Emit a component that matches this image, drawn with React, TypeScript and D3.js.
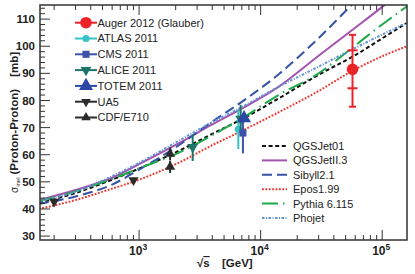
import React, { useEffect, useRef } from "react";
import * as d3 from "d3";

// sqrt(s) grid [GeV] for the model curves
const energies = [150, 300, 600, 1000, 2000, 4000, 7000, 14000, 30000, 60000, 100000, 160000]
const qgsjet01 = [42.2, 45.9, 50.8, 54.9, 60.9, 67.7, 73.1, 80.7, 89.5, 96.7, 102.9, 108.6]
const qgsjet2 = [43.3, 47.0, 51.5, 56.5, 63.6, 71.2, 77.0, 85.0, 96.5, 106.8, 114.5, 122.0]
const sibyll = [41.9, 44.6, 49.0, 54.5, 62.7, 72.2, 79.5, 89.6, 103.0, 116.5, 126.0, 135.0]
const epos = [40.0, 43.3, 47.5, 50.8, 56.5, 63.5, 68.8, 75.6, 83.5, 91.5, 96.3, 100.0]
const pythia = [42.9, 46.5, 51.1, 55.0, 60.2, 67.2, 73.4, 82.0, 90.0, 100.3, 108.0, 114.7]
const phojet = [42.9, 46.3, 52.1, 57.0, 64.5, 72.0, 77.6, 85.0, 92.5, 99.4, 104.3, 108.7]

const modelNames = ["QGSJet01", "QGSJetII.3", "Sibyll2.1", "Epos1.99", "Pythia 6.115", "Phojet"]
const modelValues = [qgsjet01, qgsjet2, sibyll, epos, pythia, phojet]
const modelColors = ["#111111", "#a452b0", "#3653a8", "#f0352f", "#1ea84a", "#5f93d6"]
const modelDash = ["4,2.6", "", "10,5", "1.8,1.6", "16,5,1.5,5", "2.5,1.5,1,1.5"]

// measurements
const expNames = ["Auger 2012 (Glauber)", "ATLAS 2011", "CMS 2011", "ALICE 2011", "TOTEM 2011", "UA5", "CDF/E710"]
const expColors = ["#ec2229", "#35c3c6", "#3a52a8", "#1f7469", "#2a47a6", "#2b2b2b", "#2b2b2b"]

const augerE = [57000]
const augerV = [91.5]
const augerStat = [7]
const augerTotUp = [12.7]
const augerTotDn = [13.8]

const atlasE = [6550]
const atlasV = [69.4]
const atlasUp = [7.3]
const atlasDn = [7.3]

const cmsE = [7150]
const cmsV = [68.0]
const cmsUp = [5.0]
const cmsDn = [7.5]

const aliceE = [2760, 6850]
const aliceV = [62.8, 73.2]
const aliceUp = [4.5, 5.2]
const aliceDn = [5.1, 5.3]

const totemE = [7300]
const totemV = [73.5]
const totemUp = [1.9]
const totemDn = [1.5]

const ua5E = [200, 900]
const ua5V = [42.7, 50.6]
const ua5Up = [1.0, 0.9]
const ua5Dn = [1.0, 0.9]

const cdfE = [1800, 1800]
const cdfV = [60.3, 55.5]
const cdfUp = [2.4, 2.2]
const cdfDn = [2.4, 2.2]

const yTicks = [30, 40, 50, 60, 70, 80, 90, 100, 110]
const xTicks = [1000, 10000, 100000]
const xTickExp = ["3", "4", "5"]

const W = 415
const H = 274
const FONT = "'Liberation Sans', Arial, Helvetica, sans-serif"

export default function App() {
  const ref = useRef<SVGSVGElement>(null)

  useEffect(() => {
    const svg = d3.select(ref.current)
    svg.selectAll("*").remove()

    const x = d3.scaleLog().domain([153, 160000]).range([40, 407])
    const y = d3.scaleLinear().domain([28.56, 115.2]).range([240, 5])

    svg.append("defs").append("clipPath").attr("id", "plotclip")
      .append("rect").attr("x", 40).attr("y", 5).attr("width", 367).attr("height", 235)

    // model curves
    const curves = svg.append("g").attr("clip-path", "url(#plotclip)")
    const line = d3.line<[number, number]>()
      .x(d => x(d[0])).y(d => y(d[1]))
      .curve(d3.curveMonotoneX)
    modelValues.forEach((vals, i) => {
      curves.append("path")
        .attr("d", line(energies.map((e, j) => [e, vals[j]] as [number, number])))
        .attr("fill", "none")
        .attr("stroke", modelColors[i])
        .attr("stroke-width", 2)
        .attr("stroke-dasharray", modelDash[i] || null)
    })

    // error bars + markers
    const pts = svg.append("g")
    const sym = (type: d3.SymbolType, size: number) => d3.symbol().type(type).size(size)()
    const drawSet = (E: number[], V: number[], up: number[], dn: number[], color: string,
      type: d3.SymbolType, size: number, flip: boolean) => {
      E.forEach((e, i) => {
        pts.append("line")
          .attr("x1", x(e)).attr("x2", x(e))
          .attr("y1", y(V[i] + up[i])).attr("y2", y(V[i] - dn[i]))
          .attr("stroke", color).attr("stroke-width", 2)
      })
      E.forEach((e, i) => {
        pts.append("path")
          .attr("d", sym(type, size))
          .attr("transform", `translate(${x(e)},${y(V[i])})${flip ? " rotate(180)" : ""}`)
          .attr("fill", color)
      })
    }
    drawSet(atlasE, atlasV, atlasUp, atlasDn, expColors[1], d3.symbolCircle, 40, false)
    drawSet(aliceE, aliceV, aliceUp, aliceDn, expColors[3], d3.symbolTriangle, 50, true)
    drawSet(cmsE, cmsV, cmsUp, cmsDn, expColors[2], d3.symbolSquare, 50, false)
    drawSet(totemE, totemV, totemUp, totemDn, expColors[4], d3.symbolTriangle, 85, false)
    drawSet(ua5E, ua5V, ua5Up, ua5Dn, expColors[5], d3.symbolTriangle, 45, true)
    drawSet(cdfE, cdfV, cdfUp, cdfDn, expColors[6], d3.symbolTriangle, 45, false)

    // Auger with stat + total caps
    augerE.forEach((e, i) => {
      const cx = x(e)
      pts.append("line").attr("x1", cx).attr("x2", cx)
        .attr("y1", y(augerV[i] + augerTotUp[i])).attr("y2", y(augerV[i] - augerTotDn[i]))
        .attr("stroke", expColors[0]).attr("stroke-width", 2)
      const caps: [number, number][] = [
        [augerV[i] + augerTotUp[i], 3.5], [augerV[i] - augerTotDn[i], 3.5],
        [augerV[i] + augerStat[i], 5], [augerV[i] - augerStat[i], 5],
      ]
      caps.forEach(c => {
        pts.append("line").attr("x1", cx - c[1]).attr("x2", cx + c[1])
          .attr("y1", y(c[0])).attr("y2", y(c[0]))
          .attr("stroke", expColors[0]).attr("stroke-width", 2)
      })
      pts.append("circle").attr("cx", cx).attr("cy", y(augerV[i])).attr("r", 5.8)
        .attr("fill", expColors[0])
    })

    // frame
    svg.append("rect").attr("x", 40).attr("y", 5).attr("width", 367).attr("height", 235)
      .attr("fill", "none").attr("stroke", "#333").attr("stroke-width", 1.5)

    const ticks = svg.append("g").attr("stroke", "#333").attr("stroke-width", 1)
    // x ticks (bottom + top)
    ;[100, 1000, 10000, 100000].forEach(dec => {
      for (let k = 1; k <= 9; k++) {
        const v = k * dec
        if (v < 153 || v > 160000) continue
        const len = k === 1 ? 10 : 5
        ticks.append("line").attr("x1", x(v)).attr("x2", x(v)).attr("y1", 240).attr("y2", 240 - len)
        ticks.append("line").attr("x1", x(v)).attr("x2", x(v)).attr("y1", 5).attr("y2", 5 + len)
      }
    })
    // y ticks
    for (let v = 30; v <= 114; v += 2) {
      const len = v % 10 === 0 ? 10 : 5
      ticks.append("line").attr("x1", 40).attr("x2", 40 + len).attr("y1", y(v)).attr("y2", y(v))
    }

    // tick labels
    yTicks.forEach(v => {
      svg.append("text").attr("x", 35).attr("y", y(v)).attr("dy", "0.36em")
        .attr("text-anchor", "end").attr("font-family", FONT).attr("font-weight", "bold")
        .attr("font-size", 11.5).attr("fill", "#222").text(v)
    })
    xTicks.forEach((v, i) => {
      const t = svg.append("text").attr("x", x(v) - 1).attr("y", 255)
        .attr("text-anchor", "middle").attr("font-family", FONT).attr("font-weight", "bold")
        .attr("font-size", 12).attr("fill", "#222")
      t.append("tspan").text("10")
      t.append("tspan").attr("dy", -5).attr("font-size", 8.5).text(xTickExp[i])
    })

    // axis titles
    const yt = svg.append("text").attr("transform", "translate(18,52) rotate(-90)")
      .attr("text-anchor", "end").attr("font-family", FONT).attr("font-weight", "bold")
      .attr("font-size", 11.5).attr("fill", "#222")
    yt.append("tspan").attr("font-weight", "normal").attr("font-size", 10).text("σ")
    yt.append("tspan").attr("font-weight", "normal").attr("font-size", 6).attr("dy", 2).text("inel")
    yt.append("tspan").attr("dy", -2).attr("dx", 3).text("(Proton-Proton)")
    yt.append("tspan").attr("dx", 12).text("[mb]")

    const xt = svg.append("text").attr("x", 197).attr("y", 267)
      .attr("font-family", FONT).attr("font-weight", "bold").attr("font-size", 11.5).attr("fill", "#222")
    xt.append("tspan").text("√")
    xt.append("tspan").attr("text-decoration", "overline").text("s")
    xt.append("tspan").attr("x", 222).text("[GeV]")

    // legend: measurements
    const markerTypes = [d3.symbolCircle, d3.symbolCircle, d3.symbolSquare, d3.symbolTriangle,
      d3.symbolTriangle, d3.symbolTriangle, d3.symbolTriangle]
    const markerSizes = [105, 40, 50, 50, 85, 40, 40]
    const markerFlip = [false, false, false, true, false, true, false]
    expNames.forEach((name, i) => {
      const ly = 22.7 + i * 15.8
      svg.append("line").attr("x1", 75).attr("x2", 97).attr("y1", ly).attr("y2", ly)
        .attr("stroke", expColors[i]).attr("stroke-width", 2)
      svg.append("path").attr("d", sym(markerTypes[i], markerSizes[i]))
        .attr("transform", `translate(86,${ly})${markerFlip[i] ? " rotate(180)" : ""}`)
        .attr("fill", expColors[i])
      svg.append("text").attr("x", 97.5).attr("y", ly).attr("dy", "0.36em")
        .attr("font-family", FONT).attr("font-size", 11).attr("fill", "#222").text(name)
    })

    // legend: models
    modelNames.forEach((name, i) => {
      const ly = 146 + i * 14.4
      svg.append("line").attr("x1", 262).attr("x2", 287).attr("y1", ly).attr("y2", ly)
        .attr("stroke", modelColors[i]).attr("stroke-width", 2)
        .attr("stroke-dasharray", modelDash[i] || null)
      svg.append("text").attr("x", 293).attr("y", ly).attr("dy", "0.36em")
        .attr("font-family", FONT).attr("font-size", 11).attr("fill", "#222").text(name)
    })
  }, [])

  return (
    <svg ref={ref} width={W} height={H}
      style={{ position: "absolute", left: 0, top: 0, background: "#fff" }} />
  )
}
